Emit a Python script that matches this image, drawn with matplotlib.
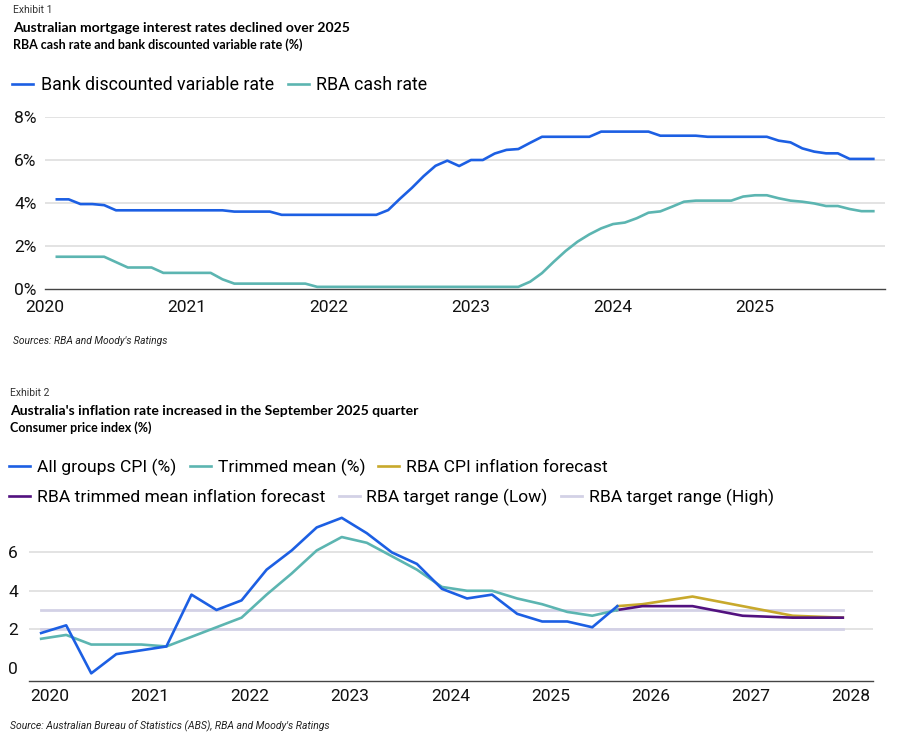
import numpy as np
import matplotlib.pyplot as plt

plt.rcParams['font.family'] = ['Roboto', 'DejaVu Sans']

BLUE = '#1c5fe3'
TEAL = '#5cb5b1'
GOLD = '#c8a92c'
PURPLE = '#52117f'
LAVENDER = '#d3d1e6'
GRID = '#dedede'

# ---- Exhibit 1: monthly, Feb 2020 .. Nov 2025 ----
months_1 = 2020 + np.arange(1, 71) / 12.0
bank_rate = [4.17, 4.17, 3.95, 3.95, 3.90, 3.66, 3.66, 3.66, 3.66, 3.66,
             3.66, 3.66, 3.66, 3.66, 3.66, 3.60, 3.60, 3.60, 3.60, 3.45,
             3.45, 3.45, 3.45, 3.45, 3.45, 3.45, 3.45, 3.45, 3.67, 4.20,
             4.70, 5.25, 5.73, 5.97, 5.72, 6.00, 6.00, 6.30, 6.47, 6.51,
             6.80, 7.08, 7.08, 7.08, 7.08, 7.08, 7.32, 7.32, 7.32, 7.32,
             7.32, 7.13, 7.13, 7.13, 7.13, 7.08, 7.08, 7.08, 7.08, 7.08,
             7.08, 6.90, 6.82, 6.54, 6.39, 6.31, 6.31, 6.05, 6.05, 6.05]
cash_rate = [1.50, 1.50, 1.50, 1.50, 1.50, 1.25, 1.00, 1.00, 1.00, 0.75,
             0.75, 0.75, 0.75, 0.75, 0.45, 0.25, 0.25, 0.25, 0.25, 0.25,
             0.25, 0.25, 0.10, 0.10, 0.10, 0.10, 0.10, 0.10, 0.10, 0.10,
             0.10, 0.10, 0.10, 0.10, 0.10, 0.10, 0.10, 0.10, 0.10, 0.10,
             0.34, 0.74, 1.27, 1.77, 2.20, 2.54, 2.82, 3.02, 3.09, 3.29,
             3.55, 3.61, 3.83, 4.06, 4.11, 4.11, 4.11, 4.11, 4.30, 4.36,
             4.36, 4.22, 4.11, 4.06, 3.98, 3.86, 3.86, 3.72, 3.62, 3.62]
years_1 = [2020, 2021, 2022, 2023, 2024, 2025]
yticks_1 = [0, 2, 4, 6, 8]

# ---- Exhibit 2: quarterly, Dec 2019 .. Sep 2025 ----
quarters = 2019 + 11 / 12 + np.arange(24) * 0.25
cpi = [1.8, 2.2, -0.3, 0.7, 0.9, 1.1, 3.8, 3.0, 3.5, 5.1, 6.1, 7.3,
       7.8, 7.0, 6.0, 5.4, 4.1, 3.6, 3.8, 2.8, 2.4, 2.4, 2.1, 3.2]
trimmed = [1.5, 1.7, 1.2, 1.2, 1.2, 1.1, 1.6, 2.1, 2.6, 3.8, 4.9, 6.1,
           6.8, 6.5, 5.8, 5.1, 4.2, 4.0, 4.0, 3.6, 3.3, 2.9, 2.7, 3.0]
# forecasts: Sep 2025, then half-yearly Dec 2025 .. Dec 2027
fc_dates = [2025 + 8 / 12, 2025 + 11 / 12, 2026 + 5 / 12, 2026 + 11 / 12,
            2027 + 5 / 12, 2027 + 11 / 12]
cpi_fc = [3.2, 3.3, 3.7, 3.2, 2.7, 2.6]
trimmed_fc = [3.0, 3.2, 3.2, 2.7, 2.6, 2.6]
target_dates = [2019 + 11 / 12, 2027 + 11 / 12]
target_low = [2, 2]
target_high = [3, 3]
years_2 = list(range(2020, 2029))
yticks_2 = [0, 2, 4, 6]

W, H = 905, 754
fig = plt.figure(figsize=(W / 100, H / 100), dpi=100)


def axes_px(left, top, right, bottom):
    return fig.add_axes([left / W, 1 - bottom / H, (right - left) / W, (bottom - top) / H])


def style(ax):
    for s in ['top', 'right', 'left']:
        ax.spines[s].set_visible(False)
    ax.spines['bottom'].set_color('#444444')
    ax.spines['bottom'].set_linewidth(1.0)
    ax.tick_params(length=0, labelsize=12.5, colors='#111111')


# ======================
# EXHIBIT 1
# ======================
fig.text(13 / W, 1 - 10 / H, 'Exhibit 1', fontsize=7.5, color='#333333', va='center')
fig.text(13 / W, 1 - 28 / H, 'Australian mortgage interest rates declined over 2025',
         fontsize=10.1, fontweight='bold', va='center', family='Lato')
fig.text(13 / W, 1 - 45 / H, 'RBA cash rate and bank discounted variable rate (%)',
         fontsize=9.0, fontweight='bold', va='center', family='Lato')

ax1 = axes_px(45, 117, 885, 289)
ax1.set_xlim(2020, 2020 + 840 / 142)
ax1.set_ylim(0, 8)
for v in yticks_1[1:]:
    ax1.axhline(v, color=GRID, lw=1.2, zorder=0)
l_bank, = ax1.plot(months_1, bank_rate, color=BLUE, lw=1.9, label='Bank discounted variable rate')
l_cash, = ax1.plot(months_1, cash_rate, color=TEAL, lw=1.9, label='RBA cash rate')
ax1.set_yticks(yticks_1)
ax1.set_yticklabels(['{}%'.format(v) for v in yticks_1])
ax1.set_xticks(years_1)
ax1.set_xticklabels([str(y) for y in years_1])
style(ax1)
ax1.tick_params(axis='y', pad=6)
ax1.tick_params(axis='x', pad=8)
fig.legend(handles=[l_bank, l_cash], loc='center left', bbox_to_anchor=(5 / W, 1 - 85 / H),
           ncol=2, frameon=False, fontsize=12.8, handlelength=1.2, handletextpad=0.4,
           columnspacing=0.8, borderaxespad=0)

fig.text(13 / W, 1 - 341 / H, "Sources: RBA and Moody's Ratings", fontsize=7.4,
         style='italic', color='#222222', va='center')

# ======================
# EXHIBIT 2
# ======================
fig.text(10 / W, 1 - 393 / H, 'Exhibit 2', fontsize=7.5, color='#333333', va='center')
fig.text(10 / W, 1 - 411 / H, "Australia's inflation rate increased in the September 2025 quarter",
         fontsize=10.1, fontweight='bold', va='center', family='Lato')
fig.text(10 / W, 1 - 428 / H, 'Consumer price index (%)',
         fontsize=9.0, fontweight='bold', va='center', family='Lato')

ax2 = axes_px(29, 514, 873, 681)
ax2.set_xlim(2020 - 21 / 102.7, 2020 + 844 / 102.7)
ax2.set_ylim(-0.7, 8.0)
for v in yticks_2[1:]:
    ax2.axhline(v, color=GRID, lw=1.2, zorder=0)
l_low, = ax2.plot(target_dates, target_low, color=LAVENDER, lw=2.0, label='RBA target range (Low)', zorder=1)
l_high, = ax2.plot(target_dates, target_high, color=LAVENDER, lw=2.0, label='RBA target range (High)', zorder=1)
l_cpi_fc, = ax2.plot(fc_dates, cpi_fc, color=GOLD, lw=1.9, label='RBA CPI inflation forecast', zorder=2)
l_tm_fc, = ax2.plot(fc_dates, trimmed_fc, color=PURPLE, lw=1.9, label='RBA trimmed mean inflation forecast', zorder=2)
l_tm, = ax2.plot(quarters, trimmed, color=TEAL, lw=1.9, label='Trimmed mean (%)', zorder=3)
l_cpi, = ax2.plot(quarters, cpi, color=BLUE, lw=1.9, label='All groups CPI (%)', zorder=4)
ax2.set_yticks(yticks_2)
ax2.set_xticks(years_2)
ax2.set_xticklabels([str(y) for y in years_2])
style(ax2)
ax2.tick_params(axis='y', pad=8)
ax2.tick_params(axis='x', pad=6)

leg_kw = dict(frameon=False, fontsize=12.6, handlelength=1.2, handletextpad=0.4,
              columnspacing=0.75, borderaxespad=0, loc='center left')
fig.legend(handles=[l_cpi, l_tm, l_cpi_fc], ncol=3,
           bbox_to_anchor=(2 / W, 1 - 467 / H), **leg_kw)
fig.legend(handles=[l_tm_fc, l_low, l_high], ncol=3,
           bbox_to_anchor=(2 / W, 1 - 497 / H), **leg_kw)

fig.text(10 / W, 1 - 726 / H, "Source: Australian Bureau of Statistics (ABS), RBA and Moody's Ratings",
         fontsize=7.5, style='italic', color='#222222', va='center')

fig.savefig('out.png', dpi=100, facecolor='white')
